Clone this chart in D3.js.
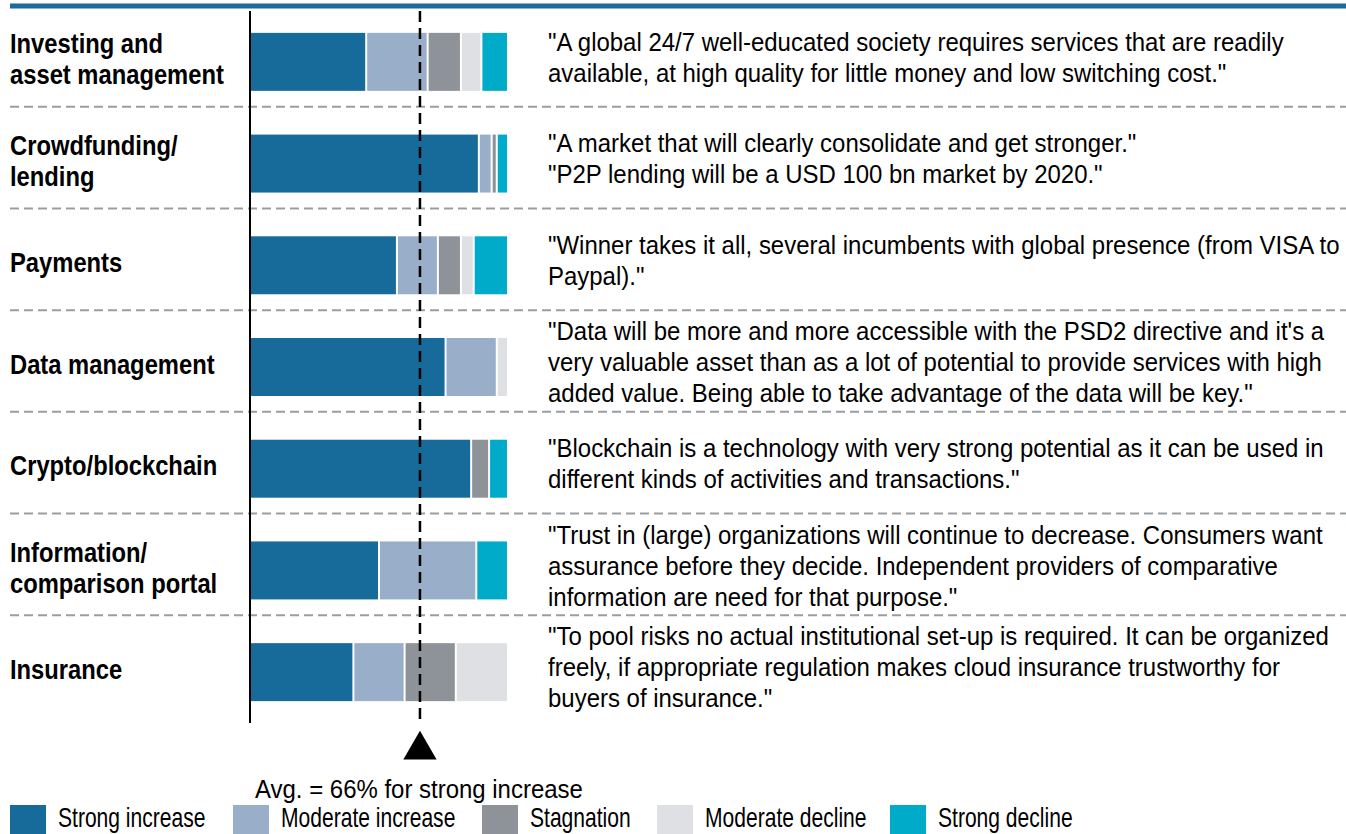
<!DOCTYPE html>
<html>
<head>
<meta charset="utf-8">
<script src="https://cdn.jsdelivr.net/npm/d3@7"></script>
<style>
  html, body { margin: 0; padding: 0; background: #fff; }
  svg { display: block; }
  text { font-family: "Liberation Sans", Arial, Helvetica, sans-serif; fill: #000; }
</style>
</head>
<body>
<div id="chart"></div>
<script>
// categories, shown with line breaks as in the source
const categories = [
    ['Investing and', 'asset management'],
    ['Crowdfunding/', 'lending'],
    ['Payments'],
    ['Data management'],
    ['Crypto/blockchain'],
    ['Information/', 'comparison portal'],
    ['Insurance'],
];

const seriesNames = ['Strong increase', 'Moderate increase', 'Stagnation', 'Moderate decline', 'Strong decline'];

// share of answers in %, one value per category
const strongIncrease = [45, 89, 57, 76, 86, 50, 40];
const moderateIncrease = [24, 5, 16, 20, 0, 38, 20];
const stagnation = [13, 2, 9, 0, 7, 0, 20];
const moderateDecline = [8, 0, 5, 4, 0, 0, 20];
const strongDecline = [10, 4, 13, 0, 7, 12, 0];

const avgStrongIncrease = 66;
const avgLabel = 'Avg. = 66% for strong increase';

const quotes = [
    ['"A global 24/7 well-educated society requires services that are readily',
     'available, at high quality for little money and low switching cost."'],
    ['"A market that will clearly consolidate and get stronger."',
     '"P2P lending will be a USD 100 bn market by 2020."'],
    ['"Winner takes it all, several incumbents with global presence (from VISA to',
     'Paypal)."'],
    ['"Data will be more and more accessible with the PSD2 directive and it\'s a',
     'very valuable asset than as a lot of potential to provide services with high',
     'added value. Being able to take advantage of the data will be key."'],
    ['"Blockchain is a technology with very strong potential as it can be used in',
     'different kinds of activities and transactions."'],
    ['"Trust in (large) organizations will continue to decrease. Consumers want',
     'assurance before they decide. Independent providers of comparative',
     'information are need for that purpose."'],
    ['"To pool risks no actual institutional set-up is required. It can be organized',
     'freely, if appropriate regulation makes cloud insurance trustworthy for',
     'buyers of insurance."'],
];

const colors = ['#176b9b', '#98aec9', '#8e9299', '#dfe0e3', '#00abc9'];

const W = 1346, H = 834;
const svg = d3.select('#chart').append('svg').attr('width', W).attr('height', H);

// the source uses a condensed sans, so squeeze the text horizontally
function addText(parent, x, y, str, size, sx, bold) {
    return parent.append('text')
        .attr('transform', 'translate(' + x + ',' + y + ') scale(' + sx + ',1)')
        .attr('dy', '0.36em')
        .attr('font-size', size)
        .attr('font-weight', bold ? 'bold' : 'normal')
        .text(str);
}

const rows = categories.map((c, i) => ({
    index: i,
    label: c,
    quote: quotes[i],
    values: [strongIncrease[i], moderateIncrease[i], stagnation[i], moderateDecline[i], strongDecline[i]],
}));

const x = d3.scaleLinear().domain([0, 100]).range([251, 507]);
const y = d3.scaleBand().domain(d3.range(rows.length)).range([11, 723]).paddingInner(0.43).paddingOuter(0.215);
const lineH = 31;

// top rule
svg.append('rect').attr('x', 10).attr('y', 3.5).attr('width', W - 10).attr('height', 5).attr('fill', '#1a6a9a');

// dashed separators between rows
const seps = d3.range(rows.length - 1).map((i) => y(i) + y.bandwidth() + (y.step() - y.bandwidth()) / 2 - 6);
svg.selectAll('line.sep')
    .data(seps)
    .enter()
    .append('line')
    .attr('class', 'sep')
    .attr('x1', 10).attr('x2', W)
    .attr('y1', (d) => d).attr('y2', (d) => d)
    .attr('stroke', '#9a9da2')
    .attr('stroke-width', 2)
    .attr('stroke-dasharray', '9,5');

// stacked bars
const stack = d3.stack().keys([0, 1, 2, 3, 4]).value((d, k) => d.values[k]);
const layers = stack(rows);
const gap = 2;
svg.append('g')
    .selectAll('g')
    .data(layers)
    .enter()
    .append('g')
    .attr('fill', (d, i) => colors[i])
    .selectAll('rect')
    .data((d) => d.filter((s) => s[1] - s[0] > 0))
    .enter()
    .append('rect')
    .attr('x', (d) => x(d[0]) + (d[0] > 0 ? gap / 2 : 0))
    .attr('width', (d) => x(d[1]) - x(d[0]) - (d[0] > 0 ? gap / 2 : 0) - (d[1] < 100 ? gap / 2 : 0))
    .attr('y', (d) => y(d.data.index))
    .attr('height', y.bandwidth());

// axis line
svg.append('line')
    .attr('x1', 250).attr('x2', 250)
    .attr('y1', 11).attr('y2', 723)
    .attr('stroke', '#000').attr('stroke-width', 2);

// average line + marker
const ax = x(avgStrongIncrease);
svg.append('line')
    .attr('x1', ax).attr('x2', ax)
    .attr('y1', 11).attr('y2', 722)
    .attr('stroke', '#000').attr('stroke-width', 2.5)
    .attr('stroke-dasharray', '11,6');
svg.append('path')
    .attr('d', d3.symbol().type(d3.symbolTriangle).size(480)())
    .attr('transform', 'translate(' + ax + ',750)')
    .attr('fill', '#000');
addText(svg, 255, 789, avgLabel, 25.5, 0.94, false);

// category labels and quotes
const labelG = svg.append('g');
rows.forEach((r) => {
    const cy = y(r.index) + y.bandwidth() / 2 - 3;
    r.label.forEach((t, j) => {
        addText(labelG, 10, cy + (j - (r.label.length - 1) / 2) * lineH, t, 27, 0.88, true);
    });
    r.quote.forEach((t, j) => {
        addText(labelG, 548, cy - 2 + (j - (r.quote.length - 1) / 2) * lineH, t, 25.5, 0.94, false);
    });
});

// legend
const legendX = [10, 233, 482, 657, 890];
const legend = svg.append('g')
    .selectAll('g')
    .data(seriesNames)
    .enter()
    .append('g')
    .attr('transform', (d, i) => 'translate(' + legendX[i] + ',805)');
legend.append('rect').attr('width', 36).attr('height', 29).attr('fill', (d, i) => colors[i]);
legend.append('text')
    .attr('transform', 'translate(48,22) scale(0.78,1)')
    .attr('font-size', 27)
    .text((d) => d);
</script>
</body>
</html>
